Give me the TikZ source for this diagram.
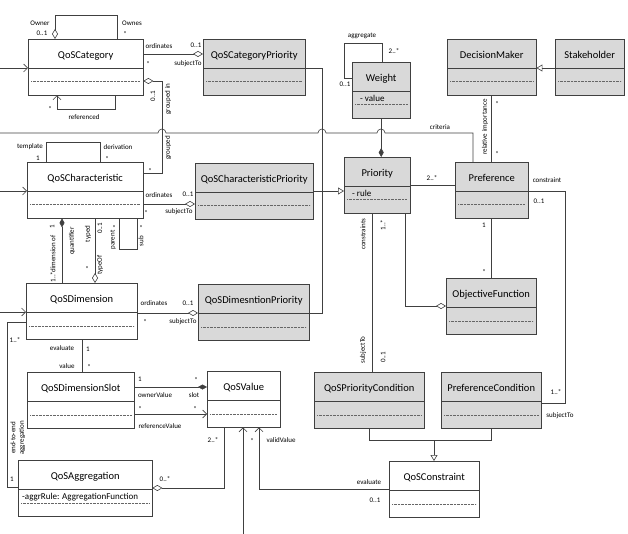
\documentclass[tikz,border=0pt]{standalone}
\usepackage{fontspec}
\setmainfont{Carlito}
\usetikzlibrary{arrows.meta, positioning}

\begin{document}
\begin{tikzpicture}[
        x=1pt, y=-1pt,
        class/.style={draw=black!75, fill=white, anchor=north west, inner sep=0pt,
            text height=19pt, text depth=37pt, font=\fontsize{10.5}{12}\selectfont,
            path picture={
                \draw[black!75] ([yshift=-29pt]path picture bounding box.north west) -- ([yshift=-29pt]path picture bounding box.north east);
                \draw[black!60, densely dotted] ([xshift=3pt,yshift=-42.5pt]path picture bounding box.north west) -- ([xshift=-3pt,yshift=-42.5pt]path picture bounding box.north east);
            }},
        shaded/.style={class, fill=black!15},
        attr/.style={anchor=west, inner sep=0pt, font=\fontsize{9}{10}\selectfont},
        lbl/.style={inner sep=0pt, font=\fontsize{7}{8}\selectfont},
        vlbl/.style={lbl, rotate=90},
        assoc/.style={draw=black!75, line width=0.6pt},
        agg/.style={assoc, {Diamond[open, length=10pt, width=6pt]}-},
        toagg/.style={assoc, -{Diamond[open, length=10pt, width=6pt]}},
        comp/.style={assoc, {Diamond[length=9pt, width=5pt]}-},
        tocomp/.style={assoc, -{Diamond[length=9pt, width=5pt]}},
        gen/.style={assoc, -{Triangle[open, length=6pt, width=7pt]}},
        nav/.style={assoc, -{Straight Barb[length=4pt, width=8pt]}}
    ]
    \useasboundingbox (0,0) rectangle (628,534);

    % classes
    \node[class, minimum width=115pt] (cat) at (28,39) {QoSCategory};
    \node[shaded, minimum width=102pt] (catpri) at (203,39) {QoSCategoryPriority};
    \node[shaded, minimum width=58pt] (weight) at (352,62) {Weight};
    \node[shaded, minimum width=89pt] (dm) at (447,39) {DecisionMaker};
    \node[shaded, minimum width=69pt] (stake) at (555,39) {Stakeholder};
    \node[class, minimum width=116pt] (char) at (27,162) {QoSCharacteristic};
    \node[shaded, minimum width=118pt] (charpri) at (195,163) {QoSCharacteristicPriority};
    \node[shaded, minimum width=66pt] (prio) at (344,157) {Priority};
    \node[shaded, minimum width=73pt] (pref) at (455,162) {Preference};
    \node[class, minimum width=111pt] (dim) at (26,283) {QoSDimension};
    \node[shaded, minimum width=111pt] (dimpri) at (198,284) {QoSDimesntionPriority};
    \node[shaded, minimum width=90pt] (objfun) at (446,278) {ObjectiveFunction};
    \node[class, minimum width=107pt] (slot) at (27,372) {QoSDimensionSlot};
    \node[class, minimum width=73pt] (val) at (207,371) {QoSValue};
    \node[shaded, minimum width=110pt] (pcond) at (314,372) {QoSPriorityCondition};
    \node[shaded, minimum width=100pt] (prefcond) at (441,372) {PreferenceCondition};
    \node[class, minimum width=90pt] (cons) at (389,461) {QoSConstraint};
    \node[class, minimum width=134pt] (aggr) at (18,460) {QoSAggregation};

    % attributes
    \node[attr] (weightval) at (360,98) {- value};
    \node[attr] (priorule) at (352,193) {- rule};
    \node[attr] (aggrrule) at (22,497) {-aggrRule: AggregationFunction};

    % incoming from outside
    \coordinate (incat) at (0,68); \draw[nav] (incat) -- (incat -| cat.west);
    \coordinate (inchar) at (0,191); \draw[nav] (inchar) -- (inchar -| char.west);
    \coordinate (indim) at (0,312); \draw[nav] (indim) -- (indim -| dim.west);
    \coordinate (inval) at (243,534); \draw[nav] (inval) -- (inval |- val.south);

    % QoSCategory
    \draw[agg] (cat.north -| 55,0) -- (55,15) -- (117,15) -- (cat.north -| 117,0);
    \node[lbl] (owner) at (40,23) {Owner}; \node[lbl] (ownerm) at (42,33) {0..1};
    \node[lbl] (ownes) at (132,23) {Ownes}; \node[lbl] (ownesm) at (125,34) {*};
    \draw[nav] (cat.south -| 115,0) -- (115,109) -- (57,109) -- (cat.south -| 57,0);
    \node[lbl] (refm) at (50,109) {*}; \node[lbl] (ref) at (84,117) {referenced};
    \draw[toagg] (cat.east |- 0,54) -- (catpri.west |- 0,54);
    \node[lbl] (catord) at (159,46) {ordinates}; \node[lbl] (catordm) at (196,45) {0..1};
    \node[lbl] (catsubm) at (148,64) {*}; \node[lbl] (catsub) at (188,64) {subjectTo};
    \draw[agg] (cat.east |- 0,81) -- (162,81) -- (162,173) -- (char.east |- 0,173);
    \node[vlbl] (grpinm) at (153,96) {0..1}; \node[vlbl] (grpin) at (168,99) {grouped in};
    \node[vlbl] (grp) at (168,148) {grouped}; \node[lbl] (grpm) at (150,171) {*};

    % criteria, with hops
    \coordinate (incrit) at (0,133);
    \draw[assoc] (incrit) -- (158,133) arc[start angle=180, end angle=0, radius=4pt]
        -- (318,133) arc[start angle=180, end angle=0, radius=4pt]
        -- (377,133) arc[start angle=180, end angle=0, radius=4pt]
        -- (473,133) -- (pref.north -| 473,0);
    \node[lbl] (crit) at (440,127) {criteria};

    % priorities
    \draw[assoc] (catpri.east |- 0,68) -- (322,68) -- (322,191);
    \draw[assoc] (dimpri.east |- 0,313) -- (322,313) -- (322,191);
    \draw[gen] (charpri.east |- 0,191) -- (prio.west |- 0,191);
    \draw[assoc] (weight.north -| 382,0) -- (382,43) -- (344,43) -- (344,78) -- (weight.west |- 0,78);
    \node[lbl] (aggrg) at (362,36) {aggregate}; \node[lbl] (aggrgm) at (394,51) {2..*}; \node[lbl] (aggrgo) at (345,84) {0..1};
    \draw[tocomp] (weight.south) -- (weight.south |- prio.north);
    \draw[gen] (stake.west |- 0,68) -- (dm.east |- 0,68);
    \draw[assoc] (dm.south) -- (dm.south |- pref.north);
    \node[vlbl] (relimp) at (485,127) {relative importance};
    \node[lbl] (relimpa) at (497,104) {*}; \node[lbl] (relimpb) at (497,154) {*};
    \draw[assoc] (prio.east |- 0,185) -- (pref.west |- 0,185);
    \node[lbl] (prefm) at (432,178) {2..*};
    \draw[assoc] (pref.east |- 0,191) -- (565,191) -- (565,403) -- (prefcond.east |- 0,403);
    \node[lbl] (constr) at (547,180) {constraint}; \node[lbl] (constrm) at (539,201) {0..1};
    \node[lbl] (prefsubm) at (556,392) {1..*}; \node[lbl] (prefsub) at (560,416) {subjectTo};
    \draw[assoc] (pref.south) -- (pref.south |- objfun.north);
    \node[lbl] (objone) at (484,225) {1}; \node[lbl] (objm) at (484,272) {*};
    \draw[toagg] (prio.south -| 405,0) -- (405,306) -- (objfun.west |- 0,306);
    \draw[assoc] (prio.south -| 372,0) -- (pcond.north -| 372,0);
    \node[vlbl] (constrs) at (363,234) {constraints}; \node[vlbl] (constrsm) at (383,225) {1..*};
    \node[vlbl] (pcsub) at (363,350) {subjectTo}; \node[vlbl] (pcsubm) at (383,357) {0..1};
    \coordinate (condjoin) at (434,440);
    \draw[assoc] (pcond.south) -- (pcond.south |- condjoin) -- (prefcond.south |- condjoin) -- (prefcond.south);
    \draw[gen] (condjoin) -- (condjoin |- cons.north);

    % QoSCharacteristic
    \draw[assoc] (char.north -| 46,0) -- (46,142) -- (100,142) -- (char.north -| 100,0);
    \node[lbl] (tmpl) at (30,147) {template}; \node[lbl] (tmplm) at (38,158) {1};
    \node[lbl] (deriv) at (118,147) {derivation}; \node[lbl] (derivm) at (107,159) {*};
    \draw[assoc] (char.south -| 119,0) -- (119,249) -- (137,249) -- (char.south -| 137,0);
    \node[vlbl] (parent) at (113,240) {parent}; \node[lbl] (parentm) at (114,228) {*};
    \node[vlbl] (sub) at (141,241) {sub}; \node[lbl] (subm) at (141,228) {*};
    \draw[comp] (char.south -| 62,0) -- (dim.north -| 62,0);
    \node[vlbl] (dimofone) at (52,227) {1}; \node[vlbl] (quant) at (72,241) {quantifier};
    \node[vlbl] (dimof) at (53,254) {dimension of}; \node[vlbl] (dimofm) at (53,277) {1..*};
    \draw[toagg] (char.south -| 95,0) -- (dim.north -| 95,0);
    \node[vlbl] (typed) at (88,234) {typed}; \node[vlbl] (typedm) at (100,228) {0..1};
    \node[lbl] (typeofm) at (87,269) {*}; \node[vlbl] (typeof) at (100,265) {typeOf};
    \draw[toagg] (char.east |- 0,204) -- (charpri.west |- 0,204);
    \node[lbl] (charord) at (159,195) {ordinates}; \node[lbl] (charordm) at (188,194) {0..1};
    \node[lbl] (charsubm) at (146,213) {*}; \node[lbl] (charsub) at (179,212) {subjectTo};

    % QoSDimension
    \draw[toagg] (dim.east |- 0,313) -- (dimpri.west |- 0,313);
    \node[lbl] (dimord) at (154,303) {ordinates}; \node[lbl] (dimordm) at (188,303) {0..1};
    \node[lbl] (dimsubm) at (145,322) {*}; \node[lbl] (dimsub) at (183,322) {subjectTo};
    \draw[assoc] (dim.south -| 82,0) -- (slot.north -| 82,0);
    \node[lbl] (evalA) at (62,348) {evaluate}; \node[lbl] (evalAm) at (88,349) {1};
    \node[lbl] (value) at (67,366) {value}; \node[lbl] (valuem) at (89,367) {*};
    \draw[assoc] (dim.west |- 0,322) -- (7,322) -- (7,487) -- (aggr.west |- 0,487);
    \node[lbl] (etem) at (15,340) {1..*}; \node[lbl] (eteone) at (12,479) {1};
    \node[vlbl] (ete) at (13,438) {end-to-end}; \node[vlbl] (eteagg) at (22,438) {aggregation};

    % QoSValue
    \draw[tocomp] (slot.east |- 0,387) -- (val.west |- 0,387);
    \node[lbl] (ownvone) at (140,379) {1}; \node[lbl] (ownvm) at (196,380) {*};
    \node[lbl] (ownv) at (155,395) {ownerValue}; \node[lbl] (slotl) at (194,395) {slot};
    \draw[nav] (slot.east |- 0,414) -- (val.west |- 0,414);
    \node[lbl] (refva) at (140,409) {*}; \node[lbl] (refvb) at (195,409) {*};
    \node[lbl] (refv) at (160,426) {referenceValue};
    \draw[agg] (aggr.east |- 0,488) -- (224,488) -- (val.south -| 224,0);
    \node[lbl] (aggvm) at (165,479) {0..*}; \node[lbl] (aggvn) at (213,440) {2..*};
    \draw[nav] (cons.west |- 0,489) -- (259,489) -- (val.south -| 259,0);
    \node[lbl] (validm) at (252,441) {*}; \node[lbl] (valid) at (281,440) {validValue};
    \node[lbl] (evalB) at (369,482) {evaluate}; \node[lbl] (evalBm) at (375,500) {0..1};
\end{tikzpicture}
\end{document}
